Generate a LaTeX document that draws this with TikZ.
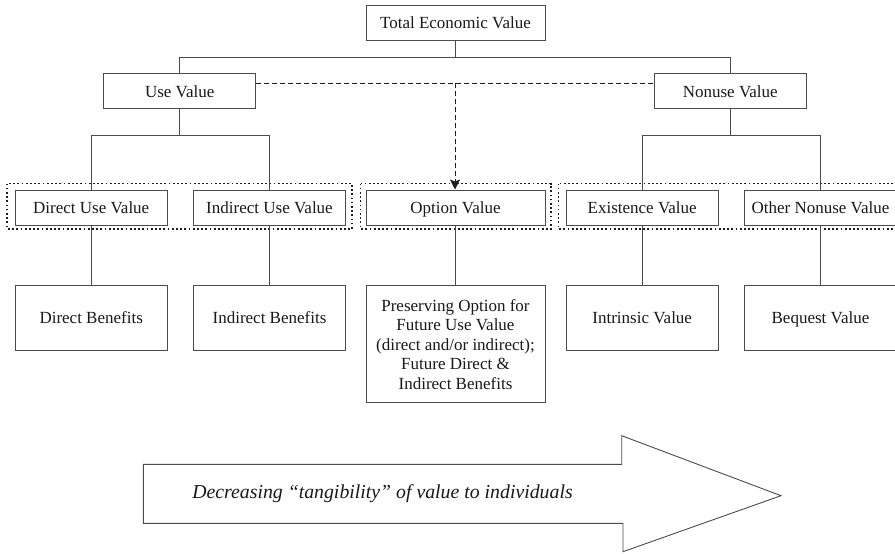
\documentclass[tikz,border=0pt]{standalone}
\usepackage{fontspec}
\setmainfont{Liberation Serif}
\usetikzlibrary{arrows.meta}
\definecolor{ln}{RGB}{75,75,75}
\definecolor{tx}{RGB}{25,25,25}
\definecolor{dt}{RGB}{30,30,30}
\begin{document}
\begin{tikzpicture}[x=1pt,y=-1pt,
  box/.style={draw=ln, line width=0.9pt, fill=white, text=tx, font=\fontsize{17}{19.5}\selectfont,
    inner sep=0pt, align=center, minimum height=35pt, text height=11.5pt, text depth=0pt},
  bigbox/.style={box, minimum height=64.3pt},
  conn/.style={draw=ln, line width=0.9pt},
  dashconn/.style={draw=dt, line width=0.9pt, dash pattern=on 5pt off 3pt},
  grp/.style={draw=dt, line width=1.7pt, dash pattern=on 1.7pt off 2.5pt},
  bigarrow/.style={draw=ln, line width=0.9pt, fill=white}
]
\useasboundingbox (0,0) rectangle (895,554);

% group frames (dotted)
\draw[grp] (7.3,183.5) rectangle (352,229);
\draw[grp] (360.5,183.5) rectangle (551,229);
\draw[grp] (558.5,183.5) rectangle (905,229);

% level 0-1
\node[box, minimum width=179pt] (tev) at (455.5,22.5) {Total Economic Value};
\node[box, minimum width=152pt] (uv) at (179.7,91.3) {Use Value};
\node[box, minimum width=152pt] (nu) at (730.3,91.3) {Nonuse Value};

% level 2
\node[box, minimum width=152.3pt] (duv) at (91.2,207.5) {Direct Use Value};
\node[box, minimum width=151.6pt] (iuv) at (269.5,207.5) {Indirect Use Value};
\node[box, minimum width=179pt] (ov) at (455.5,207.5) {Option Value};
\node[box, minimum width=152.3pt] (ev) at (642.2,207.5) {Existence Value};
\node[box, minimum width=152.3pt] (onv) at (820.5,207.5) {Other Nonuse Value};

% level 3
\node[bigbox, minimum width=152.3pt] (db) at (91.2,317.9) {Direct Benefits};
\node[bigbox, minimum width=151.6pt] (ib) at (269.5,317.9) {Indirect Benefits};
\node[box, minimum width=179pt, minimum height=117pt, text height=, text depth=] (pr) at (455.5,344.2)
  {Preserving Option for\\Future Use Value\\(direct and/or indirect);\\Future Direct \&\\Indirect Benefits};
\node[bigbox, minimum width=152.3pt] (iv) at (642.2,317.9) {Intrinsic Value};
\node[bigbox, minimum width=152.3pt] (bv) at (820.5,317.9) {Bequest Value};

% junctions
\coordinate (j1) at (455.5,57.5);
\coordinate (j2) at (179.7,135);
\coordinate (j3) at (730.3,135);
\coordinate (d1) at (455,83.3);

% tree connectors
\draw[conn] (tev.south) -- (j1);
\draw[conn] (uv.north) -- (uv.north |- j1) -- (nu.north |- j1) -- (nu.north);
\draw[conn] (uv.south) -- (j2);
\draw[conn] (duv.north) -- (duv.north |- j2) -- (iuv.north |- j2) -- (iuv.north);
\draw[conn] (nu.south) -- (j3);
\draw[conn] (ev.north) -- (ev.north |- j3) -- (onv.north |- j3) -- (onv.north);

\draw[conn] (duv.south) -- (db.north);
\draw[conn] (iuv.south) -- (ib.north);
\draw[conn] (ov.south) -- (ov.south |- pr.north);
\draw[conn] (ev.south) -- (iv.north);
\draw[conn] (onv.south) -- (bv.north);

% dashed option link
\draw[dashconn] (uv.east |- d1) -- (nu.west |- d1);
\draw[dashconn, -{Stealth[length=10pt,width=10pt,inset=2pt]}] (d1) -- (455,189.5);

% big arrow
\draw[bigarrow] (143.3,464.3) -- (621.7,464.3) -- (621.7,435.7) -- (781,495.7)
  -- (623,551.7) -- (623,523.3) -- (143.3,523.3) -- cycle;
\node[text=tx, font=\fontsize{19.8}{22}\selectfont\itshape, inner sep=0pt, text height=13pt, text depth=0pt]
  (lbl) at (382.5,492) {Decreasing “tangibility” of value to individuals};
\end{tikzpicture}
\end{document}
